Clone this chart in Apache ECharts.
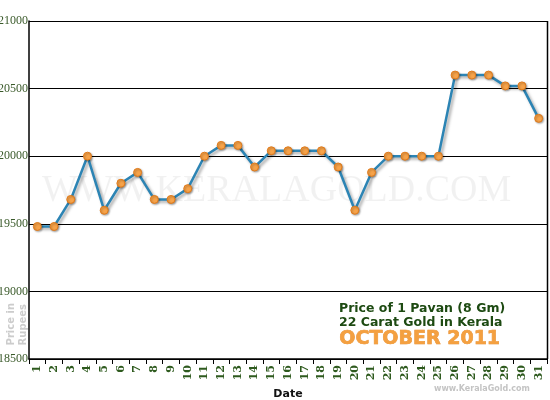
<!DOCTYPE html>
<html><head><meta charset="utf-8">
<script src="https://cdn.jsdelivr.net/npm/echarts@6/dist/echarts.min.js"></script>
<style>html,body{margin:0;padding:0;background:#fff}#c{width:550px;height:400px}</style>
</head><body><div id="c"></div>
<script>
const days = ['1','2','3','4','5','6','7','8','9','10','11','12','13','14','15','16','17','18','19','20','21','22','23','24','25','26','27','28','29','30','31'];
const prices = [19480,19480,19680,20000,19600,19800,19880,19680,19680,19760,20000,20080,20080,19920,20040,20040,20040,20040,19920,19600,19880,20000,20000,20000,20000,20600,20600,20600,20520,20520,20280];
const yTicks = [18500,19000,19500,20000,20500,21000];

const chart = echarts.init(document.getElementById('c'));
chart.setOption({
  animation:false,
  grid:{left:29,right:3,top:21,bottom:41,containLabel:false,outerBoundsMode:'none'},
  xAxis:{type:'category',data:days,boundaryGap:true,
    axisLine:{lineStyle:{color:'#000',width:1.5}},
    axisTick:{show:true,alignWithLabel:false,interval:0,length:5,lineStyle:{color:'#000'}},
    axisLabel:{interval:0,rotate:90,color:'#2e5a1e',fontFamily:'DejaVu Serif',fontSize:11,fontWeight:'bold',margin:6},
    name:'Date',nameLocation:'middle',nameGap:29,
    nameTextStyle:{color:'#111',fontFamily:'DejaVu Sans',fontWeight:'bold',fontSize:11}},
  yAxis:{type:'value',min:yTicks[0],max:yTicks[yTicks.length-1],interval:500,
    axisLine:{show:true,lineStyle:{color:'#000',width:1.5}},
    axisTick:{show:false},
    splitLine:{lineStyle:{color:'#000',width:1.2}},
    axisLabel:{color:'#3a5a2a',fontFamily:'Liberation Serif',fontSize:12,margin:1,
      formatter:v=>yTicks.includes(v)?String(v):''}},
  graphic:[
    {type:'text',left:42,top:172,z:0,style:{text:'WWW.KERALAGOLD.COM',fill:'rgba(0,0,0,0.055)',font:'38px "Liberation Serif"'}},
    {type:'line',shape:{x1:547.5,y1:21,x2:547.5,y2:359},style:{stroke:'#000',lineWidth:1.5}},
    {type:'text',left:5,top:303,rotation:Math.PI/2,style:{text:'Price in\nRupees',fill:'#cccccc',font:'bold 10px "DejaVu Sans"',align:'center',lineHeight:12}},
    {type:'text',left:339,top:301,style:{text:'Price of 1 Pavan (8 Gm)\n22 Carat Gold in Kerala',fill:'#1d4a12',font:'bold 12.5px "DejaVu Sans"',lineHeight:14.5}},
    {type:'text',left:339,top:329,style:{text:'OCTOBER 2011',fill:'#f4a040',stroke:'#e07f1a',lineWidth:0.6,font:'bold 19px "DejaVu Sans"'}},
    {type:'text',left:434,top:385,style:{text:'www.KeralaGold.com',fill:'#c4c4c4',font:'bold 8px "DejaVu Sans"'}}
  ],
  series:[{type:'line',data:prices,z:5,
    lineStyle:{color:'#2c84b4',width:2.5,shadowColor:'rgba(0,0,0,0.35)',shadowBlur:3,shadowOffsetX:2,shadowOffsetY:2},
    symbol:'circle',symbolSize:8,
    itemStyle:{color:'#f7a349',borderColor:'#e07a1a',borderWidth:1,shadowColor:'rgba(0,0,0,0.3)',shadowBlur:2,shadowOffsetX:1,shadowOffsetY:1}}]
});
</script></body></html>
